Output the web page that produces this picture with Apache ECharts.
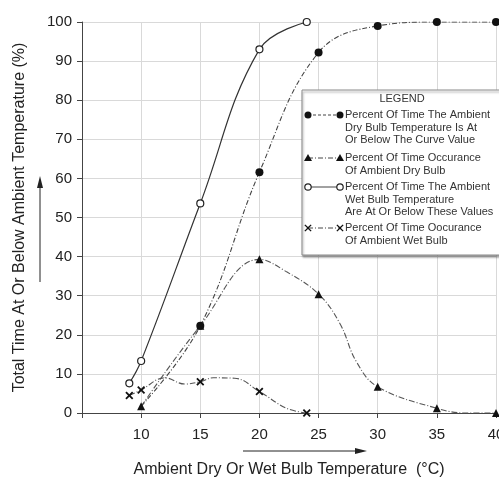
<!DOCTYPE html>
<html>
<head>
<meta charset="utf-8">
<script src="https://cdn.jsdelivr.net/npm/echarts@6/dist/echarts.min.js"></script>
<style>
html,body{margin:0;padding:0;background:#fff;}
#chart{width:499px;height:479px;}
</style>
</head>
<body>
<div id="chart"></div>
<script>
// ---- Data ----
// Percent of time the ambient dry bulb temperature is at or below the curve value
const dryCumTemp = [15, 20, 25, 30, 35, 40];
const dryCumPct  = [22.3, 61.6, 92.2, 99, 100, 100];
const dryCumTraceTemp = [10];
const dryCumTracePct  = [1.7];

// Percent of time occurance of ambient dry bulb
const dryOccTemp = [10, 15, 20, 25, 30, 35, 40];
const dryOccPct  = [1.7, 22.3, 39.3, 30.4, 6.7, 1.2, 0];
const dryOccTraceTemp = [22.3, 26.8, 28.2, 37.5];
const dryOccTracePct  = [36.1, 22.9, 13.1, 0];

// Percent of time the ambient wet bulb temperature is at or below these values
const wetCumTemp = [9, 10, 15, 20, 24];
const wetCumPct  = [7.6, 13.3, 53.6, 93, 100];
const wetCumTraceTemp = [];
const wetCumTracePct  = [];

// Percent of time occurance of ambient wet bulb
const wetOccTemp = [9, 10, 15, 20, 24];
const wetOccPct  = [4.5, 5.9, 8.0, 5.5, 0];
const wetOccTraceTemp = [12, 13.7, 16.1, 17.9, 22.3];
const wetOccTracePct  = [9.0, 7.4, 9.0, 8.9, 1.2];

const xTicks = [5, 10, 15, 20, 25, 30, 35, 40];
const yTicks = [0, 10, 20, 30, 40, 50, 60, 70, 80, 90, 100];

const legendTitle = 'LEGEND';
const legendTexts = [
  'Percent Of Time The Ambient\nDry Bulb Temperature Is At\nOr Below The Curve Value',
  'Percent Of Time Occurance\nOf Ambient Dry Bulb',
  'Percent Of Time The Ambient\nWet Bulb Temperature\nAre At Or Below These Values',
  'Percent Of Time Oocurance\nOf Ambient Wet Bulb'
];
const xTitle = 'Ambient Dry Or Wet Bulb Temperature  (°C)';
const yTitle = 'Total Time At Or Below Ambient Temperature (%)';

// ---- Build ----
const FONT = 'Arial, "Liberation Sans", Helvetica, sans-serif';
const XMARK = 'path://M0,1.6L1.6,0L5,3.4L8.4,0L10,1.6L6.6,5L10,8.4L8.4,10L5,6.6L1.6,10L0,8.4L3.4,5Z';
const ZTOP = 100;

function build(tx, ty, trx, tryy) {
  const pts = [];
  tx.forEach((x, i) => pts.push({ value: [x, ty[i]] }));
  trx.forEach((x, i) => pts.push({ value: [x, tryy[i]], symbol: 'none' }));
  pts.sort((a, b) => a.value[0] - b.value[0]);
  return pts;
}

const chart = echarts.init(document.getElementById('chart'), null, { renderer: 'canvas' });

const axisColor = '#444';
const gridColor = '#d9d9d9';

const legX = 302, legY = 90;
const sampleX1 = 308, sampleX2 = 340, textX = 345;
const entryY = [115, 158, 187, 228];
const lh = 12.7;

function marker(kind, cx, cy) {
  let el;
  if (kind === 'dot') el = { type: 'circle', shape: { cx, cy, r: 3.5 }, style: { fill: '#111' } };
  else if (kind === 'tri') el = { type: 'polygon', shape: { points: [[cx, cy - 4], [cx + 4, cy + 3], [cx - 4, cy + 3]] }, style: { fill: '#111' } };
  else if (kind === 'ring') el = { type: 'circle', shape: { cx, cy, r: 3.2 }, style: { fill: '#fff', stroke: '#222', lineWidth: 1.2 } };
  else {
    const s = 3.6, t = 0.9;
    const rel = [[-s, -s + t], [-s + t, -s], [0, -t], [s - t, -s], [s, -s + t], [t, 0], [s, s - t], [s - t, s], [0, t], [-s + t, s], [-s, s - t], [-t, 0]];
    el = { type: 'polygon', shape: { points: rel.map(p => [cx + p[0], cy + p[1]]) }, style: { fill: '#111' } };
  }
  el.z = ZTOP + 2;
  return el;
}

const sampleStyles = [
  { kind: 'dot', dash: [3, 2] },
  { kind: 'tri', dash: [5, 2, 1, 2] },
  { kind: 'ring', dash: null },
  { kind: 'x', dash: [5, 2, 1, 2] }
];

const graphics = [
  { type: 'rect', z: ZTOP, shape: { x: legX, y: legY, width: 220, height: 165 },
    style: { fill: '#fff', stroke: '#8a8a8a', lineWidth: 1, shadowColor: 'rgba(0,0,0,0.35)', shadowBlur: 2, shadowOffsetX: 1, shadowOffsetY: 2 } },
  { type: 'text', z: ZTOP + 1, x: 402, y: 99, style: { text: legendTitle, font: '11px ' + FONT, fill: '#333', align: 'center', verticalAlign: 'middle' } }
];
legendTexts.forEach((t, i) => {
  const y = entryY[i];
  const st = sampleStyles[i];
  const ls = { stroke: '#444', lineWidth: 1 };
  if (st.dash) ls.lineDash = st.dash;
  graphics.push({ type: 'line', z: ZTOP + 1, shape: { x1: sampleX1, y1: y, x2: sampleX2, y2: y }, style: ls });
  graphics.push(marker(st.kind, sampleX1, y));
  graphics.push(marker(st.kind, sampleX2, y));
  graphics.push({ type: 'text', z: ZTOP + 1, x: textX, y: y - lh / 2,
    style: { text: t, font: '11px ' + FONT, fill: '#333', align: 'left', verticalAlign: 'top', lineHeight: lh } });
});
// title arrows
graphics.push(
  { type: 'line', z: ZTOP, shape: { x1: 40, y1: 282, x2: 40, y2: 186 }, style: { stroke: '#222', lineWidth: 1 } },
  { type: 'polygon', z: ZTOP, shape: { points: [[40, 176], [43, 188], [37, 188]] }, style: { fill: '#222' } },
  { type: 'line', z: ZTOP, shape: { x1: 243, y1: 451, x2: 357, y2: 451 }, style: { stroke: '#222', lineWidth: 1 } },
  { type: 'polygon', z: ZTOP, shape: { points: [[367, 451], [355, 448], [355, 454]] }, style: { fill: '#222' } }
);

const option = {
  animation: false,
  backgroundColor: '#fff',
  grid: { left: 82, right: 3, top: 22, bottom: 66, outerBoundsMode: 'none', containLabel: false },
  xAxis: {
    type: 'value', min: xTicks[0], max: xTicks[xTicks.length - 1], interval: 5,
    name: xTitle, nameLocation: 'middle', nameGap: 49,
    nameTextStyle: { fontFamily: FONT, fontSize: 16, color: '#222' },
    axisLine: { show: true, lineStyle: { color: axisColor, width: 1 } },
    axisTick: { show: true, length: 5, lineStyle: { color: axisColor } },
    axisLabel: { margin: 14, fontFamily: FONT, fontSize: 15, color: '#222',
      formatter: v => (v === xTicks[0] ? '' : String(v)) },
    splitLine: { show: true, lineStyle: { color: gridColor, width: 1 } }
  },
  yAxis: {
    type: 'value', min: yTicks[0], max: yTicks[yTicks.length - 1], interval: 10,
    name: yTitle, nameLocation: 'middle', nameGap: 54,
    nameTextStyle: { fontFamily: FONT, fontSize: 16, color: '#222' },
    axisLine: { show: true, lineStyle: { color: axisColor, width: 1 } },
    axisTick: { show: true, length: 5, lineStyle: { color: axisColor } },
    axisLabel: { margin: 10, fontFamily: FONT, fontSize: 15, color: '#222' },
    splitLine: { show: true, lineStyle: { color: gridColor, width: 1 } }
  },
  series: [
    {
      name: 'Percent Of Time Occurance Of Ambient Dry Bulb', type: 'line',
      data: build(dryOccTemp, dryOccPct, dryOccTraceTemp, dryOccTracePct),
      smooth: 0.4, symbol: 'triangle', symbolSize: 8,
      itemStyle: { color: '#111' },
      lineStyle: { color: '#555', width: 1.1, type: [6, 2, 1, 2] }
    },
    {
      name: 'Percent Of Time The Ambient Dry Bulb Temperature Is At Or Below The Curve Value', type: 'line',
      data: build(dryCumTemp, dryCumPct, dryCumTraceTemp, dryCumTracePct),
      smooth: 0.4, symbol: 'circle', symbolSize: 8,
      itemStyle: { color: '#111' },
      lineStyle: { color: '#444', width: 1.1, type: [5, 2, 1, 2] }
    },
    {
      name: 'Percent Of Time The Ambient Wet Bulb Temperature Are At Or Below These Values', type: 'line',
      data: build(wetCumTemp, wetCumPct, wetCumTraceTemp, wetCumTracePct),
      smooth: 0.4, symbol: 'circle', symbolSize: 7,
      itemStyle: { color: '#fff', borderColor: '#222', borderWidth: 1.2 },
      lineStyle: { color: '#333', width: 1.2, type: 'solid' }
    },
    {
      name: 'Percent Of Time Oocurance Of Ambient Wet Bulb', type: 'line',
      data: build(wetOccTemp, wetOccPct, wetOccTraceTemp, wetOccTracePct),
      smooth: 0.4, symbol: XMARK, symbolSize: 8,
      itemStyle: { color: '#111' },
      lineStyle: { color: '#555', width: 1.1, type: [6, 2, 1, 2] }
    }
  ],
  graphic: { elements: graphics }
};
chart.setOption(option);
</script>
</body>
</html>
